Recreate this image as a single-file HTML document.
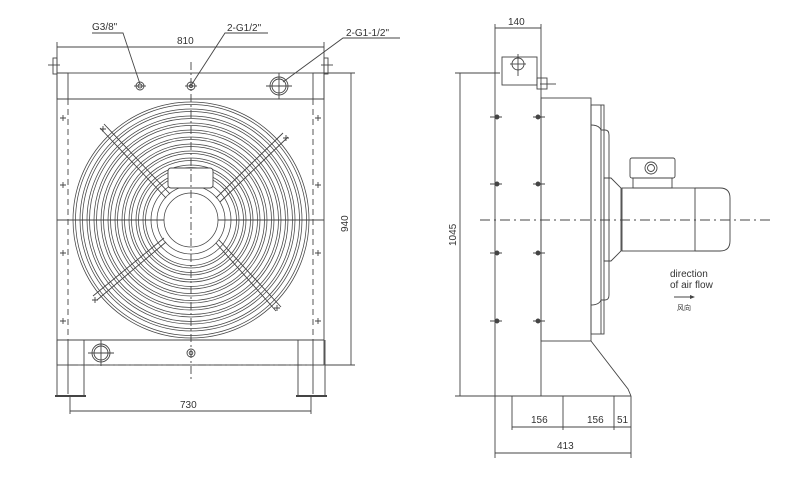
<!DOCTYPE html>
<html><head><meta charset="utf-8"><style>
html,body{margin:0;padding:0;background:#fff}
svg{display:block}
text{font-family:"Liberation Sans","Noto Sans CJK SC",sans-serif;fill:#333;font-size:10px}
</style></head><body>
<svg width="788" height="479" viewBox="0 0 788 479" xmlns="http://www.w3.org/2000/svg">
<g fill="none" stroke="#444" stroke-width="0.9">
<line x1="57" y1="47" x2="324" y2="47"/>
<line x1="57" y1="42" x2="57" y2="73"/><line x1="324" y1="42" x2="324" y2="73"/>
<rect x="53" y="58" width="4" height="16"/><rect x="324" y="58" width="4" height="16"/>
<line x1="48" y1="65" x2="60" y2="65"/><line x1="321" y1="65" x2="333" y2="65"/>
<rect x="57" y="73" width="267" height="292"/>
<line x1="57" y1="99" x2="324" y2="99"/>
<line x1="57" y1="340" x2="324" y2="340"/>
<rect x="57" y="73" width="11" height="26"/><rect x="313" y="73" width="11" height="26"/>
<line x1="68" y1="99" x2="68" y2="340" stroke-dasharray="6,4"/>
<line x1="313" y1="99" x2="313" y2="340" stroke-dasharray="6,4"/>
<line x1="57" y1="220" x2="324" y2="220"/>
<path d="M57 340 V396 H84 V340"/><line x1="68" y1="340" x2="68" y2="394"/>
<path d="M298 340 V396 H325 V340"/><line x1="313" y1="340" x2="313" y2="394"/>
<line x1="55" y1="396" x2="86" y2="396" stroke-width="2"/>
<line x1="296" y1="396" x2="327" y2="396" stroke-width="2"/>
<line x1="70" y1="365" x2="311" y2="365" stroke-dasharray="8,3,2,3"/>
<circle cx="140" cy="86" r="4"/><circle cx="140" cy="86" r="2"/>
<circle cx="191" cy="86" r="4"/><circle cx="191" cy="86" r="1.5"/>
<circle cx="279" cy="86" r="9"/><circle cx="279" cy="86" r="7"/>
<line x1="134" y1="86" x2="146" y2="86"/><line x1="185" y1="86" x2="197" y2="86"/>
<line x1="266" y1="86" x2="292" y2="86"/><line x1="279" y1="73" x2="279" y2="99"/>
<circle cx="101" cy="353" r="9"/><circle cx="101" cy="353" r="7"/>
<line x1="88" y1="353" x2="114" y2="353"/><line x1="101" y1="340" x2="101" y2="366"/>
<circle cx="191" cy="353" r="4"/><circle cx="191" cy="353" r="1.8"/>
<path d="M92 33 H123 L140 84"/>
<path d="M268 33 H225 L192 84"/>
<path d="M400 38 H343 L283 82"/>
<g stroke-width="0.75">
<circle cx="191" cy="220" r="118"/><circle cx="191" cy="220" r="115.5"/>
<circle cx="191" cy="220" r="111"/><circle cx="191" cy="220" r="108.5"/>
<circle cx="191" cy="220" r="104"/><circle cx="191" cy="220" r="101.5"/>
<circle cx="191" cy="220" r="97"/><circle cx="191" cy="220" r="94.5"/>
<circle cx="191" cy="220" r="90"/><circle cx="191" cy="220" r="87.5"/>
<circle cx="191" cy="220" r="83"/><circle cx="191" cy="220" r="80.5"/>
<circle cx="191" cy="220" r="76"/><circle cx="191" cy="220" r="73.5"/>
<circle cx="191" cy="220" r="69"/><circle cx="191" cy="220" r="66.5"/>
<circle cx="191" cy="220" r="62"/><circle cx="191" cy="220" r="59.5"/>
<circle cx="191" cy="220" r="55"/><circle cx="191" cy="220" r="52.5"/>
<circle cx="191" cy="220" r="48"/><circle cx="191" cy="220" r="45.5"/>
<circle cx="191" cy="220" r="40"/><circle cx="191" cy="220" r="34"/>
<circle cx="191" cy="220" r="27" fill="#fff"/>
</g>
<rect x="168" y="168" width="45" height="20" rx="3" fill="#fff"/>
<path d="M100 128 L166 198 M104 124 L170 194"/>
<path d="M283 133 L216 198 M288 137 L220 202"/>
<path d="M97 300 L166 242 M93 296 L164 238"/>
<path d="M276 311 L216 243 M281 307 L219 240"/>
<line x1="191" y1="62" x2="191" y2="380" stroke-dasharray="8,3,2,3"/>
<path d="M60 118h6M63 115v6M60 185h6M63 182v6M60 253h6M63 250v6M60 321h6M63 318v6"/>
<path d="M315 118h6M318 115v6M315 185h6M318 182v6M315 253h6M318 250v6M315 321h6M318 318v6"/>
<path d="M100 129h6M103 126v6M283 138h6M286 135v6M92 300h6M95 297v6M274 308h6M277 305v6"/>
<line x1="351" y1="73" x2="351" y2="365"/>
<line x1="324" y1="73" x2="355" y2="73"/><line x1="325" y1="365" x2="355" y2="365"/>
<line x1="70" y1="411" x2="311" y2="411"/>
<line x1="70" y1="396" x2="70" y2="414"/><line x1="311" y1="396" x2="311" y2="414"/>

<line x1="495" y1="28" x2="541" y2="28"/>
<line x1="495" y1="24" x2="495" y2="396"/><line x1="541" y1="24" x2="541" y2="396"/>
<rect x="502" y="57" width="35" height="28"/>
<circle cx="518" cy="64" r="6"/><line x1="510" y1="64" x2="526" y2="64"/><line x1="518" y1="54" x2="518" y2="76"/>
<rect x="537" y="78" width="10" height="11"/><line x1="540" y1="84" x2="556" y2="84"/>
<line x1="460" y1="73" x2="460" y2="396"/>
<line x1="455" y1="73" x2="500" y2="73"/><line x1="455" y1="396" x2="495" y2="396"/>
<rect x="541" y="98" width="50" height="243"/>
<rect x="591" y="105" width="13" height="229"/>
<line x1="601" y1="105" x2="601" y2="334"/>
<path d="M591 125 q8 0 10 5 h4 q4 0 4 5 v160 q0 5 -4 5 h-4 q-2 5 -10 5"/>
<path d="M604 178 h7 l10 10 v63 l-10 10 h-7 z"/>
<rect x="622" y="188" width="73" height="63"/>
<path d="M695 188 h25 q10 0 10 10 v43 q0 10 -10 10 h-25"/>
<rect x="630" y="158" width="45" height="20" rx="2"/>
<rect x="633" y="178" width="39" height="10"/>
<circle cx="651" cy="168" r="6"/><circle cx="651" cy="168" r="3.5"/>
<line x1="480" y1="220" x2="770" y2="220" stroke-dasharray="10,4,2,4"/>
<g fill="#444">
<circle cx="497" cy="117" r="2"/><circle cx="538" cy="117" r="2"/>
<circle cx="497" cy="184" r="2"/><circle cx="538" cy="184" r="2"/>
<circle cx="497" cy="253" r="2"/><circle cx="538" cy="253" r="2"/>
<circle cx="497" cy="321" r="2"/><circle cx="538" cy="321" r="2"/>
</g>
<path d="M490 117h12M533 117h12M490 184h12M533 184h12M490 253h12M533 253h12M490 321h12M533 321h12"/>
<path d="M591 341 L628 389 L631 396"/>
<line x1="495" y1="396" x2="631" y2="396"/>
<line x1="512" y1="427" x2="631" y2="427"/>
<path d="M512 396v34M563 396v34M614 396v34M631 396v62M495 396v62"/>
<line x1="495" y1="453" x2="631" y2="453"/>
<line x1="674" y1="297" x2="694" y2="297"/>
</g>
<path d="M695 297 l-5 -2 v4z" fill="#444"/>
<g>
<text x="92" y="30">G3/8"</text>
<text x="227" y="31">2-G1/2"</text>
<text x="346" y="36">2-G1-1/2"</text>
<text x="177" y="44">810</text>
<text x="180" y="408">730</text>
<text transform="translate(348,232) rotate(-90)">940</text>
<text x="508" y="25">140</text>
<text transform="translate(456,246) rotate(-90)">1045</text>
<text x="531" y="423">156</text>
<text x="587" y="423">156</text>
<text x="617" y="423">51</text>
<text x="557" y="449">413</text>
<text x="670" y="277">direction</text>
<text x="670" y="288">of air flow</text>
<text x="677" y="310" style="font-size:7px">风向</text>
</g>
</svg>
</body></html>
